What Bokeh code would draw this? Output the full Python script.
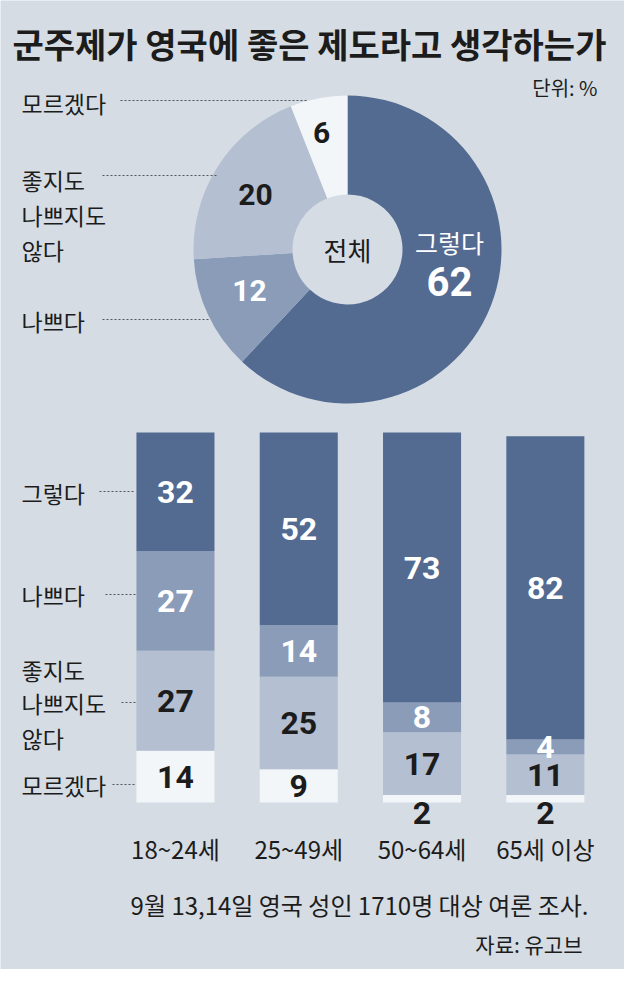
import numpy as np
from bokeh.plotting import figure
from bokeh.models import Range1d, ColumnDataSource
from bokeh.embed import file_html
from bokeh.resources import INLINE
from bokeh.core.properties import value

# ---------------- data ----------------
title = "군주제가 영국에 좋은 제도라고 생각하는가"
unit_note = "단위: %"
responses = ["그렇다", "나쁘다", "좋지도 나쁘지도 않다", "모르겠다"]
overall = [62, 12, 20, 6]
age_groups = ["18~24세", "25~49세", "50~64세", "65세 이상"]
yes_vals = [32, 52, 73, 82]
bad_vals = [27, 14, 8, 4]
neutral_vals = [27, 25, 17, 11]
dunno_vals = [14, 9, 2, 2]
footnote = "9월 13,14일 영국 성인 1710명 대상 여론 조사."
source_note = "자료: 유고브"

# ---------------- style ----------------
BG = "#d5dce4"
C_YES, C_BAD, C_NEU, C_DK = "#536a91", "#8b9cb9", "#b4bfd2", "#f3f6f9"
TXT = "#1c1c1c"
KR = value("Noto Sans CJK KR")
NUM = value("Roboto")


def Y(r):
    """reference-image row -> data y (y grows upward)"""
    return 985 - r


p = figure(width=624, height=969, x_range=Range1d(8, 632), y_range=Range1d(8, 977),
           output_backend="svg", toolbar_location=None,
           x_axis_location=None, y_axis_location=None,
           background_fill_color=BG, border_fill_color=BG, outline_line_color=None,
           min_border=0)
p.grid.visible = False
p.min_border_left = p.min_border_right = p.min_border_top = p.min_border_bottom = 0

# extra ranges for the stacked bars: index units horizontally, percent vertically
p.extra_x_ranges = {"bx": Range1d(-1.419, 3.642)}
p.extra_y_ranges = {"pct": Range1d(-45.14, 216.76)}

# ---------------- title ----------------
p.text(x=[20], y=[Y(51)], text=[title], text_font=KR, text_font_size="34px",
       text_font_style="bold", text_color=TXT, text_baseline="middle", text_align="left")
p.text(x=[605], y=[Y(95)], text=[unit_note], text_font=KR, text_font_size="20px",
       text_color=TXT, text_baseline="middle", text_align="right")

# ---------------- donut ----------------
cum = np.cumsum([0] + overall)
starts = np.pi / 2 - 2 * np.pi * cum[:-1] / 100.0
ends = np.pi / 2 - 2 * np.pi * cum[1:] / 100.0
pie_src = ColumnDataSource(dict(start=starts, end=ends, color=[C_YES, C_BAD, C_NEU, C_DK],
                                resp=responses, val=overall))
p.annular_wedge(x=355, y=Y(257), inner_radius=55, outer_radius=154,
                inner_radius_units="screen", outer_radius_units="screen",
                start_angle="start", end_angle="end", direction="clock",
                fill_color="color", line_color=None, source=pie_src)

p.text(x=[355], y=[Y(257)], text=["전체"], text_font=KR, text_font_size="26px",
       text_color=TXT, text_baseline="middle", text_align="center")
p.text(x=[457], y=[Y(249)], text=[responses[0]], text_font=KR, text_font_size="25px",
       text_color="white", text_baseline="middle", text_align="center")
p.text(x=[457], y=[Y(289)], text=[str(overall[0])], text_font=NUM, text_font_size="40px",
       text_font_style="bold", text_color="white", text_baseline="middle", text_align="center")
pie_lbl_x = [257, 263, 329]
pie_lbl_y = [Y(298), Y(202), Y(140)]
p.text(x=pie_lbl_x, y=pie_lbl_y, text=[str(v) for v in overall[1:]], text_font=NUM,
       text_font_size="30px", text_font_style="bold",
       text_color=["white", TXT, TXT], text_baseline="middle", text_align="center")

# pie side labels
pie_side = ["모르겠다", "좋지도", "나쁘지도", "않다", "나쁘다"]
pie_side_y = [110, 187, 222, 257, 328]
p.text(x=[29] * len(pie_side), y=[Y(v) for v in pie_side_y], text=pie_side, text_font=KR,
       text_font_size="23px", text_color=TXT, text_baseline="middle", text_align="left")
p.segment(x0=[128, 110, 110], y0=[Y(108), Y(183), Y(327)],
          x1=[316, 224, 216], y1=[Y(108), Y(183), Y(327)],
          line_color="#555555", line_width=1, line_dash="2 2")

# ---------------- stacked bars ----------------
idx = list(range(len(age_groups)))
bar_src = ColumnDataSource(dict(idx=idx, dunno=dunno_vals, neutral=neutral_vals,
                                bad=bad_vals, yes=yes_vals))
p.vbar_stack(["dunno", "neutral", "bad", "yes"], x="idx", width=0.633,
             color=[C_DK, C_NEU, C_BAD, C_YES], line_color=None, source=bar_src,
             x_range_name="bx", y_range_name="pct")

lx, ly, lt, lc = [], [], [], []
for i in idx:
    base = 0
    for vals, col in ((dunno_vals, TXT), (neutral_vals, TXT), (bad_vals, "white"), (yes_vals, "white")):
        v = vals[i]
        mid = base + v / 2.0
        if v < 3:
            mid = -2.9
            col = TXT
        lx.append(i)
        ly.append(mid)
        lt.append(str(v))
        lc.append(col)
        base += v
p.text(x=lx, y=ly, text=lt, text_color=lc, text_font=NUM, text_font_size="32px",
       text_font_style="bold", text_baseline="middle", text_align="center",
       x_range_name="bx", y_range_name="pct")

# category labels
p.text(x=idx, y=[-12.4] * len(idx), text=age_groups, text_font=KR, text_font_size="24px",
       text_color=TXT, text_baseline="middle", text_align="center",
       x_range_name="bx", y_range_name="pct")

# bar side labels
bar_side = ["그렇다", "나쁘다", "좋지도", "나쁘지도", "않다", "모르겠다"]
bar_side_y = [500, 602, 677, 710, 745, 792]
p.text(x=[29] * len(bar_side), y=[Y(v) for v in bar_side_y], text=bar_side, text_font=KR,
       text_font_size="23px", text_color=TXT, text_baseline="middle", text_align="left")
p.segment(x0=[107, 113, 129, 120], y0=[Y(499), Y(602), Y(710), Y(792)],
          x1=[143, 143, 143, 143], y1=[Y(499), Y(602), Y(710), Y(792)],
          line_color="#555555", line_width=1, line_dash="2 2")

# ---------------- footer ----------------
p.text(x=[596], y=[Y(912)], text=[footnote], text_font=KR, text_font_size="24px",
       text_color=TXT, text_baseline="middle", text_align="right")
p.text(x=[590], y=[Y(951)], text=[source_note], text_font=KR, text_font_size="21px",
       text_color=TXT, text_baseline="middle", text_align="right")

open("out.html", "w").write(file_html(p, INLINE))
